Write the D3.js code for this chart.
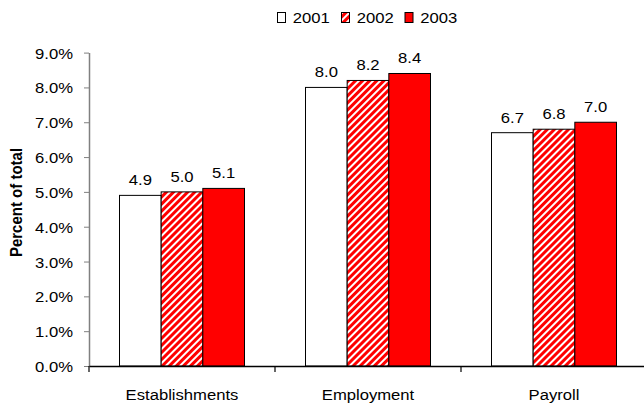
<!DOCTYPE html>
<html><head><meta charset="utf-8">
<script src="https://cdn.jsdelivr.net/npm/d3@7"></script>
<style>body{margin:0;background:#fff}svg{display:block;font-family:"Liberation Sans",Arial,sans-serif}</style>
</head><body>
<svg id="c" width="644" height="408"></svg>
<script>
const categories = ["Establishments", "Employment", "Payroll"];
const years = ["2001", "2002", "2003"];
const values2001 = [4.9, 8.0, 6.7];
const values2002 = [5.0, 8.2, 6.8];
const values2003 = [5.1, 8.4, 7.0];
const yTicks = [0, 1, 2, 3, 4, 5, 6, 7, 8, 9];
const seriesValues = [values2001, values2002, values2003];

const FS = 15, SX = 1.11;
const svg = d3.select("#c");
function txt(parent, x, y, s, anchor, opts) {
  const t = parent.append("text").attr("transform", `translate(${x},${y}) scale(${SX},1)`)
    .attr("text-anchor", anchor).attr("font-size", FS).attr("fill", "#000").text(s);
  if (opts && opts.bold) t.attr("font-weight", "bold");
  return t;
}

const defs = svg.append("defs");
const pat = defs.append("pattern").attr("id", "hatch").attr("patternUnits", "userSpaceOnUse")
  .attr("width", 5).attr("height", 5).attr("patternTransform", "rotate(45)");
pat.append("rect").attr("width", 5).attr("height", 5).attr("fill", "#ff0000");
pat.append("rect").attr("x", 0).attr("y", 0).attr("width", 2).attr("height", 5).attr("fill", "#ffffff");

const fills = ["#ffffff", "url(#hatch)", "#ff0000"];

const x0 = d3.scaleBand().domain(categories).range([89, 647]).paddingInner(0).paddingOuter(0);
const x1 = d3.scaleBand().domain(years).range([30.5, x0.bandwidth() - 30.5]).padding(0);
const y = d3.scaleLinear().domain([0, 9]).range([366, 52.6]);

// bars
const g = svg.append("g");
categories.forEach((cat, ci) => {
  years.forEach((yr, si) => {
    const v = seriesValues[si][ci];
    const bx = x0(cat) + x1(yr);
    g.append("rect").attr("x", bx).attr("y", y(v)).attr("width", x1.bandwidth()).attr("height", y(0) - y(v))
      .attr("fill", fills[si]).attr("stroke", "#000").attr("stroke-width", 1);
    txt(g, bx + x1.bandwidth() / 2, y(v) - 10, v.toFixed(1), "middle");
  });
});

// y axis
const yAxis = svg.append("g").attr("transform", "translate(89,0)")
  .call(d3.axisLeft(y).tickValues(yTicks).tickFormat("").tickSize(5).tickSizeOuter(0));
yAxis.select(".domain").attr("stroke", "#808080").attr("stroke-width", 1.5);
yAxis.selectAll(".tick line").attr("stroke", "#808080");
const yl = svg.append("g");
yTicks.forEach(t => txt(yl, 73, y(t) + 6, t.toFixed(1) + "%", "end"));

// x axis
const xAxis = svg.append("g").attr("transform", "translate(0,366)")
  .call(d3.axisBottom(x0).tickSize(0).tickFormat(""));
xAxis.select(".domain").attr("stroke", "#000").attr("stroke-width", 1.5);
const xl = svg.append("g");
categories.forEach(c => txt(xl, x0(c) + x0.bandwidth() / 2, 400, c, "middle"));
// category boundary ticks
const bounds = categories.map(c => x0(c)).concat([x0.range()[1]]);
svg.append("g").selectAll("line").data(bounds).join("line")
  .attr("x1", d => d).attr("x2", d => d).attr("y1", 366).attr("y2", 372)
  .attr("stroke", "#000").attr("stroke-width", 1.2);

// y title
svg.append("text").attr("transform", "translate(22,202.5) rotate(-90) scale(1,1.08)").attr("text-anchor", "middle")
  .attr("font-size", 15).attr("font-weight", "bold").attr("fill", "#000").text("Percent of total");

// legend
const legX = [277, 341, 404.5];
const leg = svg.append("g");
years.forEach((yr, i) => {
  leg.append("rect").attr("x", legX[i] + 0.5).attr("y", 12.5).attr("width", 8).attr("height", 10)
    .attr("fill", fills[i]).attr("stroke", "#000").attr("stroke-width", 1);
  txt(leg, legX[i] + 15.7, 23.3, yr, "start");
});
</script>
</body></html>
